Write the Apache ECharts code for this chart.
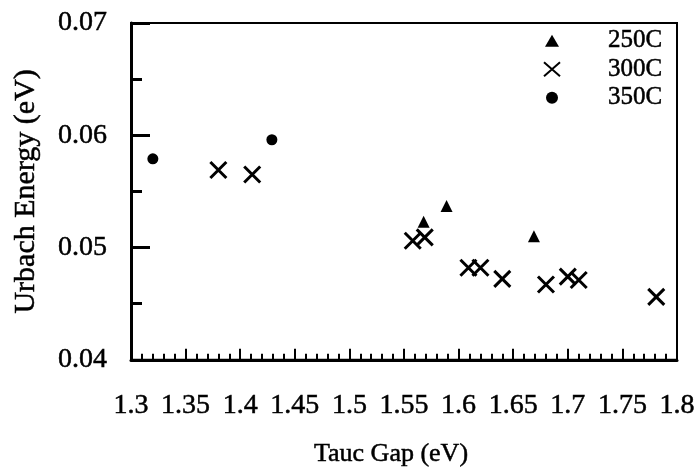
<!DOCTYPE html>
<html><head><meta charset="utf-8">
<script src="https://cdn.jsdelivr.net/npm/echarts@6/dist/echarts.min.js"></script>
<style>html,body{margin:0;padding:0;background:#fff}#c{width:699px;height:472px}</style>
</head><body><div id="c"></div>
<script>
const s250 = [[1.568, 0.0523], [1.589, 0.0537], [1.669, 0.0510]];
const s300 = [[1.380, 0.0569], [1.411, 0.0565], [1.558, 0.0506], [1.569, 0.0509], [1.609, 0.0482], [1.620, 0.0482], [1.640, 0.0472], [1.680, 0.0467], [1.700, 0.0474], [1.710, 0.0471], [1.781, 0.0456]];
const s350 = [[1.320, 0.0579], [1.429, 0.0596]];
const xTicks = ['1.3','1.35','1.4','1.45','1.5','1.55','1.6','1.65','1.7','1.75','1.8'];
const yTicks = ['0.04','0.05','0.06','0.07'];

const FONT = 'Liberation Serif';
const TXT = {fontFamily: FONT, color: '#000', textBorderColor: '#000', textBorderWidth: 0.5};
const cross = 'path://M0,0L10,10M10,0L0,10';
const legTri = 'path://M0,0M18,18M2,15L16,15L9,3Z';
const legCross = 'path://M0,0M18,18M1,2L17,16M17,2L1,16';
const legCirc = 'path://M0,0M18,18M3,9A6,6 0 1,0 15,9A6,6 0 1,0 3,9Z';
const chart = echarts.init(document.getElementById('c'));
chart.setOption({
  animation: false,
  grid: {left: 131, top: 23, right: 22, bottom: 110, show: true, borderColor: '#000', borderWidth: 2, backgroundColor: 'transparent'},
  legend: {
    orient: 'vertical', left: 542, top: 28, padding: 0, itemGap: 3, itemWidth: 18, itemHeight: 18,
    textStyle: Object.assign({fontSize: 25, padding: [0,0,0,42]}, TXT),
    data: [{name: '250C', icon: legTri}, {name: '300C', icon: legCross}, {name: '350C', icon: legCirc}]
  },
  xAxis: {
    type: 'value', min: 1.3, max: 1.8, interval: 0.05,
    axisLine: {lineStyle: {color: '#000', width: 3}},
    axisTick: {inside: true, length: 11, lineStyle: {color: '#000', width: 2}},
    minorTick: {show: true, splitNumber: 5, length: 6, lineStyle: {color: '#000', width: 2}},
    splitLine: {show: false},
    axisLabel: Object.assign({margin: 32, fontSize: 28,
      formatter: (v) => { const i = Math.round((v - 1.3) / 0.05); return xTicks[i] ?? ''; }}, TXT),
    name: 'Tauc Gap (eV)', nameLocation: 'middle', nameGap: 81,
    nameTextStyle: Object.assign({fontSize: 26, padding: [0, 26, 0, 0]}, TXT)
  },
  yAxis: {
    type: 'value', min: 0.04, max: 0.07, interval: 0.01,
    axisLine: {lineStyle: {color: '#000', width: 3}},
    axisTick: {inside: true, length: 19, lineStyle: {color: '#000', width: 3}},
    minorTick: {show: true, splitNumber: 2, length: 11, lineStyle: {color: '#000', width: 3}},
    splitLine: {show: false},
    axisLabel: Object.assign({margin: 24, fontSize: 28,
      formatter: (v) => { const i = Math.round((v - 0.04) / 0.01); return yTicks[i] ?? ''; }}, TXT),
    name: 'Urbach Energy (eV)', nameLocation: 'middle', nameGap: 90,
    nameTextStyle: Object.assign({fontSize: 30}, TXT)
  },
  series: [
    {name: '250C', type: 'scatter', data: s250, symbol: 'triangle', symbolSize: 12, itemStyle: {color: '#000', opacity: 1}},
    {name: '300C', type: 'scatter', data: s300, symbol: cross, symbolSize: 16,
      itemStyle: {color: 'transparent', borderColor: '#000', borderWidth: 3, opacity: 1}},
    {name: '350C', type: 'scatter', data: s350, symbol: 'circle', symbolSize: 11, itemStyle: {color: '#000', opacity: 1}}
  ]
});
</script></body></html>
